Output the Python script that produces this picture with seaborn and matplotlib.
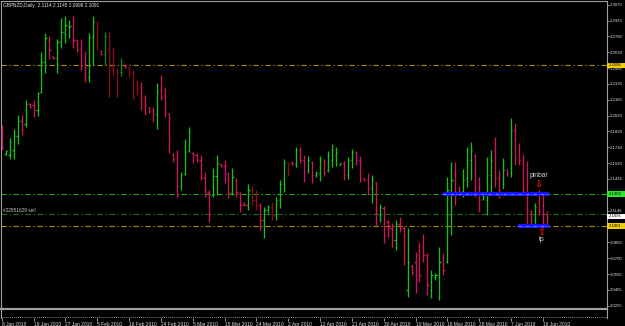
import numpy as np
import pandas as pd
import matplotlib
matplotlib.use("Agg")
import matplotlib.pyplot as plt
import seaborn as sns
from matplotlib.patches import Rectangle
from matplotlib.transforms import blended_transform_factory

# GBPNZD daily bars
bar_open = [2.1901, 2.1676, 2.1667, 2.1714, 2.1845, 2.1985, 2.1957, 2.2145, 2.2135, 2.2088,
            2.2257, 2.2538, 2.2744, 2.2594, 2.2576, 2.2725, 2.2810, 2.2866, 2.2875, 2.2744,
            2.2660, 2.2519, 2.2398, 2.2772, 2.2913, 2.2641, 2.2613, 2.2782, 2.2482, 2.2472,
            2.2444, 2.2510, 2.2491, 2.2444, 2.2323, 2.2304, 2.2201, 2.2117, 2.2088, 2.2051,
            2.2276, 2.2229, 2.2051, 2.1676, 2.1648, 2.1376, 2.1489, 2.1704, 2.1686, 2.1667,
            2.1620, 2.1451, 2.1320, 2.1292, 2.1470, 2.1582, 2.1564, 2.1489, 2.1320, 2.1432,
            2.1311, 2.1217, 2.1198, 2.1339, 2.1245, 2.1198, 2.1058, 2.1151, 2.1179, 2.1104,
            2.1245, 2.1395, 2.1592, 2.1601, 2.1582, 2.1714, 2.1620, 2.1526, 2.1601, 2.1479,
            2.1498, 2.1601, 2.1526, 2.1620, 2.1667, 2.1573, 2.1592, 2.1479, 2.1620, 2.1695,
            2.1620, 2.1451, 2.1432, 2.1357, 2.1414, 2.1104, 2.1170, 2.1039, 2.0983, 2.0870,
            2.1020, 2.0983, 2.0402, 2.0627, 2.0664, 2.0777, 2.0824, 2.0730, 2.0402, 2.0524,
            2.0542, 2.0702, 2.0664, 2.1104, 2.1479, 2.1357, 2.1329, 2.1451, 2.1620, 2.1667,
            2.1357, 2.1254, 2.1245, 2.1479, 2.1714, 2.1451, 2.1357, 2.1526, 2.1507, 2.1901,
            2.1714, 2.1620, 2.1479, 2.1133, 2.1058, 2.1292, 2.1198, 2.1114]
bar_high = [2.1948, 2.1714, 2.1826, 2.1910, 2.2041, 2.2041, 2.2182, 2.2154, 2.2182, 2.2257,
            2.2632, 2.2810, 2.2782, 2.2594, 2.2754, 2.2950, 2.2969, 2.2932, 2.2969, 2.2754,
            2.2754, 2.2641, 2.2810, 2.2969, 2.2922, 2.2651, 2.2819, 2.2819, 2.2679, 2.2482,
            2.2576, 2.2519, 2.2491, 2.2463, 2.2369, 2.2351, 2.2229, 2.2117, 2.2117, 2.2341,
            2.2416, 2.2304, 2.2060, 2.1686, 2.1714, 2.1507, 2.1817, 2.1929, 2.1695, 2.1686,
            2.1667, 2.1507, 2.1339, 2.1545, 2.1667, 2.1582, 2.1620, 2.1507, 2.1545, 2.1451,
            2.1320, 2.1226, 2.1395, 2.1376, 2.1339, 2.1217, 2.1179, 2.1198, 2.1226, 2.1273,
            2.1432, 2.1629, 2.1601, 2.1610, 2.1742, 2.1742, 2.1667, 2.1657, 2.1610, 2.1517,
            2.1657, 2.1629, 2.1704, 2.1770, 2.1742, 2.1592, 2.1610, 2.1648, 2.1723, 2.1704,
            2.1657, 2.1451, 2.1498, 2.1479, 2.1414, 2.1207, 2.1189, 2.1058, 2.1030, 2.1058,
            2.1086, 2.1001, 2.0983, 2.0636, 2.0758, 2.0852, 2.0926, 2.0748, 2.0589, 2.0561,
            2.0805, 2.0748, 2.1461, 2.1601, 2.1601, 2.1376, 2.1536, 2.1742, 2.1789, 2.1676,
            2.1461, 2.1292, 2.1648, 2.1714, 2.1835, 2.1526, 2.1639, 2.1536, 2.2013, 2.1967,
            2.1779, 2.1676, 2.1610, 2.1151, 2.1217, 2.1339, 2.1311, 2.1145]
bar_low = [2.1714, 2.1667, 2.1629, 2.1629, 2.1770, 2.1854, 2.1929, 2.2107, 2.2023, 2.2032,
           2.2248, 2.2435, 2.2566, 2.2566, 2.2435, 2.2669, 2.2716, 2.2763, 2.2669, 2.2632,
           2.2463, 2.2351, 2.2351, 2.2510, 2.2651, 2.2604, 2.2510, 2.2210, 2.2416, 2.2210,
           2.2407, 2.2482, 2.2398, 2.2191, 2.2229, 2.2088, 2.2041, 2.2060, 2.1976, 2.1910,
           2.2182, 2.2023, 2.1686, 2.1601, 2.1273, 2.1339, 2.1479, 2.1695, 2.1592, 2.1601,
           2.1432, 2.1273, 2.1039, 2.1273, 2.1292, 2.1554, 2.1404, 2.1264, 2.1292, 2.1273,
           2.1133, 2.1189, 2.1151, 2.1198, 2.1151, 2.0964, 2.0889, 2.1123, 2.1058, 2.1058,
           2.1170, 2.1320, 2.1470, 2.1573, 2.1554, 2.1592, 2.1414, 2.1498, 2.1404, 2.1461,
           2.1423, 2.1470, 2.1507, 2.1554, 2.1564, 2.1573, 2.1432, 2.1442, 2.1545, 2.1573,
           2.1414, 2.1423, 2.1292, 2.1217, 2.1011, 2.1039, 2.0842, 2.0898, 2.0805, 2.0777,
           2.0945, 2.0636, 2.0336, 2.0542, 2.0374, 2.0477, 2.0664, 2.0355, 2.0327, 2.0495,
           2.0308, 2.0542, 2.0655, 2.0917, 2.1198, 2.1311, 2.1273, 2.1367, 2.1432, 2.1273,
           2.1133, 2.1245, 2.1104, 2.1320, 2.1367, 2.1264, 2.1357, 2.1470, 2.1461, 2.1573,
           2.1573, 2.1292, 2.0992, 2.1011, 2.0992, 2.1104, 2.1011, 2.0999]
bar_close = [2.1733, 2.1704, 2.1788, 2.1845, 2.1985, 2.1901, 2.2145, 2.2117, 2.2088, 2.2248,
             2.2538, 2.2763, 2.2651, 2.2576, 2.2725, 2.2819, 2.2885, 2.2875, 2.2744, 2.2651,
             2.2501, 2.2398, 2.2772, 2.2913, 2.2716, 2.2613, 2.2782, 2.2463, 2.2463, 2.2444,
             2.2510, 2.2491, 2.2444, 2.2323, 2.2295, 2.2201, 2.2135, 2.2079, 2.2051, 2.2257,
             2.2210, 2.2060, 2.1807, 2.1629, 2.1376, 2.1479, 2.1695, 2.1892, 2.1667, 2.1620,
             2.1451, 2.1339, 2.1114, 2.1470, 2.1592, 2.1564, 2.1489, 2.1311, 2.1461, 2.1320,
             2.1198, 2.1198, 2.1339, 2.1245, 2.1198, 2.1058, 2.1151, 2.1179, 2.1104, 2.1245,
             2.1395, 2.1601, 2.1526, 2.1582, 2.1714, 2.1620, 2.1507, 2.1620, 2.1479, 2.1498,
             2.1620, 2.1507, 2.1667, 2.1714, 2.1695, 2.1592, 2.1479, 2.1620, 2.1695, 2.1620,
             2.1451, 2.1432, 2.1357, 2.1432, 2.1151, 2.1179, 2.0917, 2.0983, 2.0870, 2.1020,
             2.0983, 2.0702, 2.0664, 2.0570, 2.0495, 2.0542, 2.0730, 2.0448, 2.0542, 2.0542,
             2.0664, 2.0589, 2.1339, 2.1432, 2.1292, 2.1329, 2.1432, 2.1620, 2.1714, 2.1357,
             2.1245, 2.1273, 2.1479, 2.1620, 2.1451, 2.1339, 2.1526, 2.1498, 2.1901, 2.1639,
             2.1620, 2.1339, 2.1151, 2.1058, 2.1179, 2.1133, 2.1114, 2.1091]
dim_bars = [24, 26, 27, 28, 29, 30, 32, 33, 34, 63, 64, 68, 72]

date_labels = ["8 Jan 2010", "19 Jan 2010", "27 Jan 2010", "5 Feb 2010", "16 Feb 2010",
               "24 Feb 2010", "5 Mar 2010", "15 Mar 2010", "24 Mar 2010", "2 Apr 2010",
               "12 Apr 2010", "21 Apr 2010", "30 Apr 2010", "10 May 2010", "19 May 2010",
               "28 May 2010", "7 Jun 2010", "16 Jun 2010"]
date_step = 8

price_ticks = [2.3075, 2.2925, 2.2780, 2.2630, 2.2480, 2.2335, 2.2185, 2.2036, 2.1890,
               2.1740, 2.1590, 2.1445, 2.1145, 2.0850, 2.0700, 2.0550, 2.0405, 2.0255]

upper_level = 2.2506
buy_zone = 2.1300
tp_level = 2.1001
order_price = 2.1114
order_label = "#22951629 sell"
last_bid = 2.1091
title = "GBPNZD,Daily  2.1114 2.1145 2.0999 2.1091"

df = pd.DataFrame({"open": bar_open, "high": bar_high, "low": bar_low, "close": bar_close})
df["x"] = np.arange(len(df))
df["up"] = df["close"] > df["open"]
df["dim"] = df["x"].isin(dim_bars)


def bar_color(r):
    if r.up:
        return "#0e8a0e" if r.dim else "#18c018"
    return "#8c0c1a" if r.dim else "#d0145c"


df["color"] = [bar_color(r) for r in df.itertuples()]

sns.set_theme(style="dark", rc={"axes.facecolor": "black", "figure.facecolor": "black",
                                "axes.edgecolor": "#a0a0a0", "axes.grid": False})
plt.rcParams["font.family"] = ["Liberation Sans", "DejaVu Sans"]

W, H = 625.0, 326.0


def px_box(l, t, r, b):
    return [l / W, 1 - b / H, (r - l) / W, (b - t) / H]


fig = plt.figure(figsize=(6.25, 3.26), dpi=100)
ax = fig.add_axes(px_box(1.5, 1.3, 606.5, 309))
sub = fig.add_axes(px_box(1.5, 309, 606.5, 318), sharex=ax)

# bars
ax.vlines(df["x"], df["low"], df["high"], colors=df["color"], linewidth=0.95, zorder=3)
ax.hlines(df["open"], df["x"] - 0.3, df["x"], colors=df["color"], linewidth=0.95, zorder=3)
ax.hlines(df["close"], df["x"], df["x"] + 0.3, colors=df["color"], linewidth=0.95, zorder=3)

dashdot = (0, (4.8, 2.4, 1.2, 2.4))
ax.axhline(upper_level, color="#b09000", lw=0.8, ls=dashdot, zorder=2)
ax.axhline(tp_level, color="#b09000", lw=0.8, ls=dashdot, zorder=2)
ax.axhline(buy_zone, color="#20a820", lw=0.8, ls=dashdot, zorder=2)
ax.axhline(order_price, color="#1f721f", lw=0.8, ls=dashdot, zorder=2)

# blue zones
for x0, lvl in [(111.0, buy_zone), (129.8, tp_level)]:
    ax.add_patch(Rectangle((x0, lvl - 0.0018), 137.5 - x0, 0.0036,
                           facecolor="#1414ff", edgecolor="none", zorder=4))
    ax.plot([x0, 137.5], [lvl, lvl], color="#a0b0ff", lw=0.5, ls=dashdot, zorder=5)

ax.text(134.9, 2.1475, "pinbar", fontsize=4.8, color="#d8d8d8", ha="center", va="center", zorder=6)
ax.text(134.9, 2.1400, "\u21e9", fontsize=7, color="#ff1010", ha="center", va="center",
        family="DejaVu Sans", fontweight="bold", zorder=6)
ax.text(135.8, 2.0945, "\u21e7", fontsize=7, color="#ff1010", ha="center", va="center",
        family="DejaVu Sans", fontweight="bold", zorder=6)
ax.text(135.8, 2.0875, "tp", fontsize=4.8, color="#d8d8d8", ha="center", va="center", zorder=6)
ax.text(0.4, order_price + 0.0007, order_label, fontsize=3.4, color="#c8c8c8",
        ha="left", va="bottom", zorder=6)
ax.text(0.002, 0.994, title, transform=ax.transAxes, fontsize=3.4, color="#e6e6e6",
        ha="left", va="top", zorder=6)

ax.set_xlim(-0.05, 152.0)
ax.set_ylim(2.0224, 2.3107)

# price scale on the right
ax.yaxis.tick_right()
ax.set_yticks(price_ticks)
ax.set_yticklabels([f"{p:.4f}" for p in price_ticks])
ax.tick_params(axis="y", which="both", right=True, left=False, length=1.6, width=0.6,
               color="#b0b0b0", labelsize=3.1, labelcolor="#dedede", pad=0.6)
ax.tick_params(axis="x", bottom=False, labelbottom=False)
for s in ax.spines.values():
    s.set_color("#a0a0a0")
    s.set_linewidth(0.8)
ax.spines["bottom"].set_linewidth(1.6)

tr = blended_transform_factory(fig.transFigure, ax.transData)
for lvl, txt, fc in [(upper_level, "2.2506", "#f0d000"), (buy_zone, "2.1300", "#2ee62e"),
                     (last_bid, "2.1091", "#ffffff"), (tp_level, "2.1001", "#f0d000")]:
    ax.add_artist(Rectangle((607 / W, lvl - 0.0027), 18 / W, 0.0054, transform=tr,
                            facecolor=fc, edgecolor="none", clip_on=False, zorder=10))
    ax.text(608.5 / W, lvl, txt, transform=tr, fontsize=3.1, color="black",
            ha="left", va="center", clip_on=False, zorder=11)

# indicator strip and date scale
sub.set_ylim(0, 1)
sub.set_yticks([])
sub.axhline(0.12, color="#c0c0c0", lw=0.6, ls=(0, (1, 1.5)))
for s in sub.spines.values():
    s.set_color("#a0a0a0")
    s.set_linewidth(0.8)
sub.spines["bottom"].set_visible(False)
tick_pos = list(range(0, len(date_labels) * date_step, date_step))
sub.set_xticks(tick_pos)
sub.set_xticklabels(date_labels)
sub.tick_params(axis="x", bottom=True, length=2.2, width=0.6, color="#b0b0b0",
                labelsize=3.5, labelcolor="#e0e0e0", pad=0.8)
for lab in sub.get_xticklabels():
    lab.set_horizontalalignment("left")
sub.set_xlim(-0.05, 152.0)

fig.savefig("out.png", dpi=100, facecolor="black")
